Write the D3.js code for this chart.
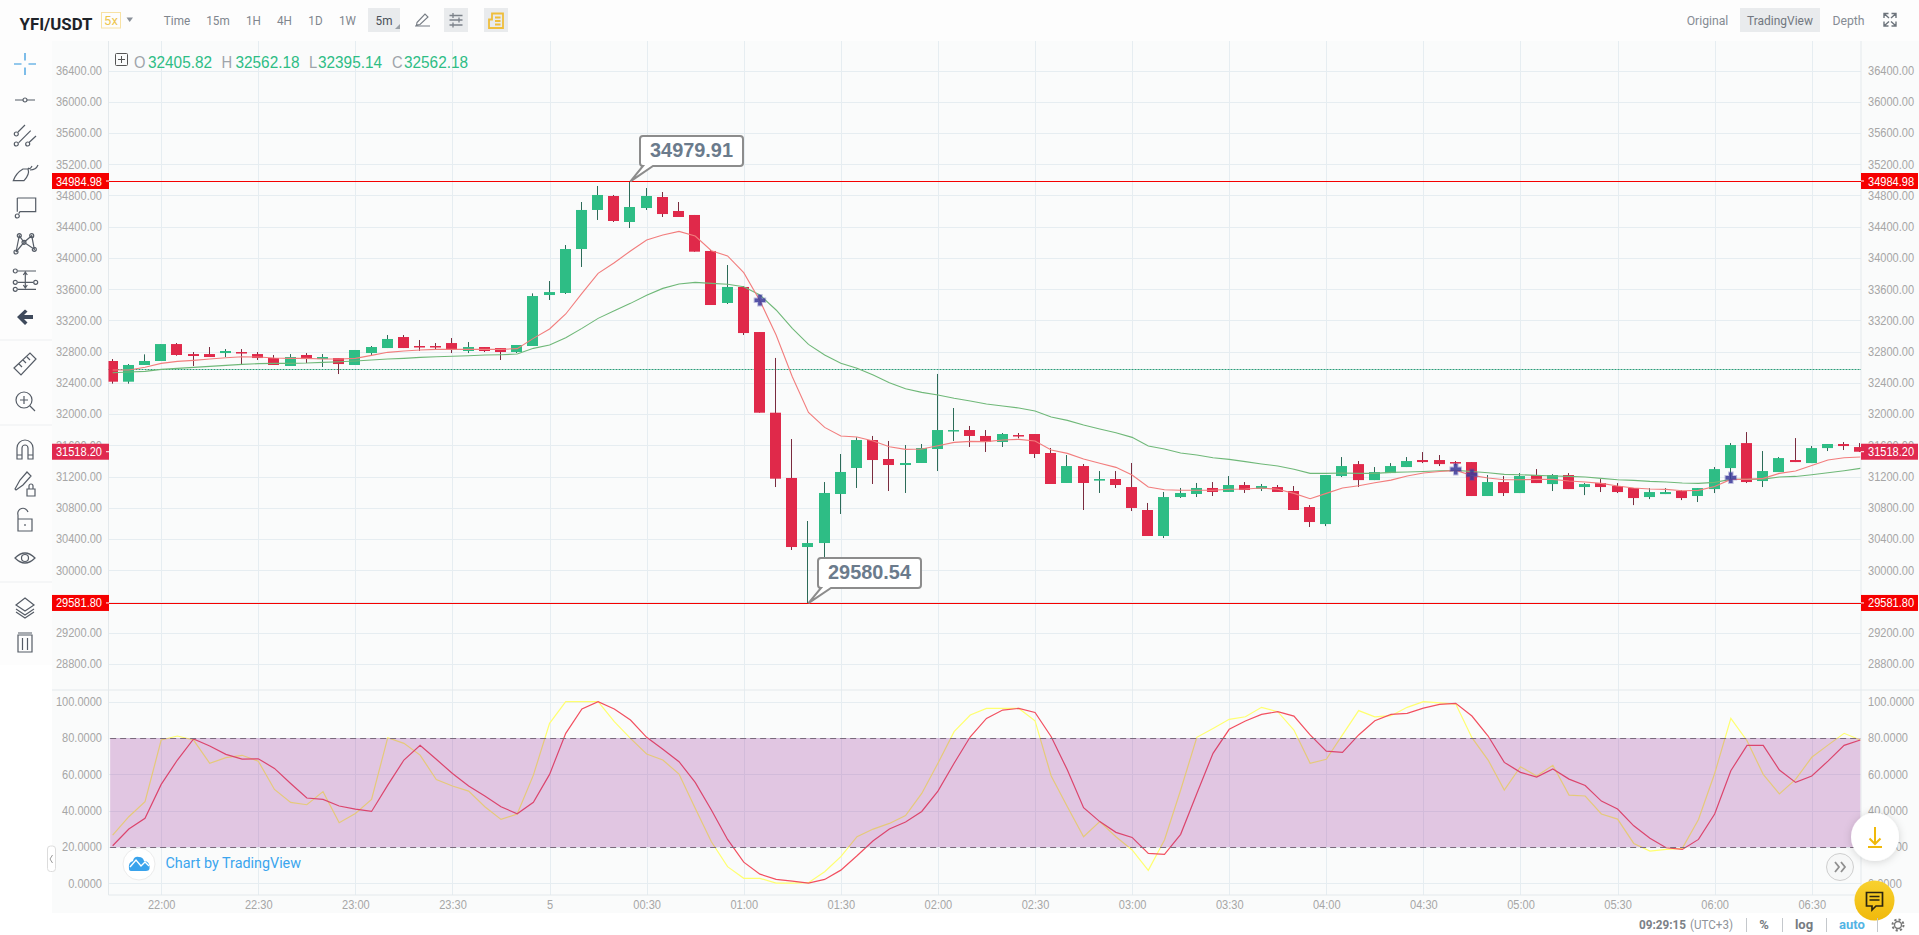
<!DOCTYPE html>
<html>
<head>
<meta charset="utf-8">
<title>YFI/USDT</title>
<script src="https://cdn.jsdelivr.net/npm/d3@7"></script>
<style>
  html, body { margin: 0; padding: 0; background: #fff; overflow: hidden; }
  svg { display: block; }
  text { font-family: "Liberation Sans", Arial, sans-serif; }
  .ui { font-family: Roboto, "Noto Sans", sans-serif; }
</style>
</head>
<body>
<svg id="chart" width="1919" height="935"></svg>
<script>
// candles, 5 minute bars from 21:45 to 06:45
const opens = [
  32680,32415,32629,32680,32897,32769,32769,32782,32795,32769,
  32718,32616,32757,32705,32718,32629,32782,32846,32987,32872,
  32872,32910,32808,32859,32846,32795,32872,33525,33551,34114,
  34614,34793,34460,34639,34780,34601,34550,34089,33423,33628,
  33051,32018,31182,30298,30349,30977,31310,31668,31425,31348,
  31374,31553,31784,31796,31720,31643,31732,31745,31502,31118,
  31335,31148,31169,31066,30772,30439,30938,30977,31054,31003,
  31092,31041,31066,31015,30810,30592,31207,31360,31155,31245,
  31322,31412,31412,31386,31386,30951,31130,30989,31220,31104,
  31220,31066,31117,31079,31053,30938,30976,31015,30951,31040,
  31309,31629,31143,31258,31412,31373,31565,31617,31578];
const highs = [
  32705,32641,32765,32897,32910,32795,32859,32833,32833,32795,
  32757,32769,32782,32769,32718,32821,32872,33013,33013,32949,
  32910,32974,32923,32859,32846,32885,33546,33704,34165,34716,
  34921,34806,34979.91,34895,34844,34716,34550,34101,33909,33640,
  33051,32719,31681,30631,31130,31489,31703,31720,31656,31604,
  31617,32514,32078,31848,31796,31758,31758,31745,31566,31476,
  31361,31271,31271,31374,30862,31003,31054,31118,31130,31207,
  31130,31105,31092,31079,30835,31220,31450,31399,31322,31373,
  31450,31514,31476,31399,31386,31220,31207,31245,31296,31232,
  31245,31117,31168,31117,31053,31053,31053,31027,31053,31322,
  31629,31770,31527,31450,31693,31591,31617,31642,31629];
const lows = [
  32390,32390,32629,32680,32748,32616,32731,32731,32641,32693,
  32629,32616,32654,32603,32513,32629,32757,32846,32846,32808,
  32833,32782,32782,32795,32693,32782,32872,33461,33538,33884,
  34486,34460,34383,34614,34524,34524,34080,33397,33410,33013,
  32018,31066,30260,29580.54,30016,30721,31054,31105,31015,30990,
  31374,31271,31656,31579,31515,31579,31690,31438,31105,31118,
  30772,30990,31054,30759,30439,30413,30926,30938,30951,31003,
  30990,31015,31003,30772,30554,30566,31194,31066,31155,31245,
  31322,31373,31335,31343,30951,30951,30951,30989,31117,31015,
  31040,30963,31002,30989,30835,30912,30976,30899,30874,30989,
  31155,31117,31066,31258,31386,31373,31527,31540,31514];
const closes = [
  32415,32629,32680,32897,32757,32744,32731,32808,32782,32718,
  32629,32731,32705,32731,32641,32821,32859,32962,32846,32859,
  32859,32821,32859,32808,32795,32885,33512,33563,34114,34614,
  34806,34473,34652,34793,34562,34524,34080,33397,33628,33038,
  32018,31173,30298,30349,30990,31259,31668,31412,31348,31374,
  31566,31796,31796,31720,31643,31745,31715,31489,31105,31335,
  31118,31169,31092,30798,30439,30938,30990,31054,31003,31092,
  31028,31079,31003,30772,30618,31220,31335,31155,31258,31335,
  31399,31386,31360,31373,30951,31130,30989,31207,31117,31220,
  31040,31104,31066,31002,30925,31002,31002,30925,31053,31296,
  31604,31130,31271,31437,31386,31565,31617,31591,31518.2];

// moving averages
const emaFast = [
  32564,32564,32599,32650,32675,32688,32705,32722,32735,32731,
  32718,32714,32714,32705,32705,32714,32752,32791,32808,32821,
  32829,32829,32829,32829,32829,32838,32970,33090,33282,33546,
  33802,33939,34089,34229,34293,34340,34281,34093,34025,33811,
  33452,33013,32479,32022,31830,31719,31706,31655,31583,31548,
  31553,31595,31638,31651,31647,31668,31677,31655,31540,31497,
  31425,31370,31318,31220,31066,31032,31024,31024,31024,31037,
  31041,31054,31037,30985,30916,30985,31053,31083,31121,31155,
  31207,31245,31266,31279,31215,31181,31160,31160,31164,31164,
  31143,31130,31113,31079,31053,31040,31036,31019,31023,31074,
  31164,31164,31177,31241,31271,31343,31412,31441,31450];
const emaSlow = [
  32530,32539,32547,32573,32586,32599,32611,32624,32637,32646,
  32650,32650,32654,32663,32671,32680,32693,32705,32714,32727,
  32735,32740,32748,32757,32761,32769,32842,32885,32979,33098,
  33226,33324,33418,33521,33610,33666,33687,33674,33662,33632,
  33525,33333,33098,32893,32757,32650,32586,32500,32402,32325,
  32278,32244,32202,32167,32129,32103,32078,32039,31963,31920,
  31860,31809,31762,31702,31591,31553,31501,31476,31442,31420,
  31391,31361,31335,31293,31241,31241,31245,31241,31241,31254,
  31258,31266,31275,31279,31266,31249,31228,31224,31215,31207,
  31202,31194,31177,31160,31151,31138,31130,31117,31113,31126,
  31164,31164,31168,31194,31202,31224,31249,31275,31305];

// stochastic pane
const stochK = [
  26.6,36.7,45.0,78.9,81.1,78.9,66.1,69.2,70.5,67.3,
  51.7,44.6,43.3,50.5,33.4,38.5,46.2,80.2,77.1,70.6,
  57.2,53.6,50.8,42.2,35.2,38.2,59.6,88.1,100,100,
  100,89.0,79.8,71.2,67.9,60.2,41.3,22.9,9.2,2.8,
  2.8,0.2,0.2,0.4,6.4,14.7,25.7,29.9,33.0,37.3,
  49.5,66.1,83.5,92.7,96.3,96.3,96.3,89.5,59.1,42.2,
  25.7,34.0,25.7,18.4,7.2,23.9,51.4,80.4,85.3,90.3,
  91.7,96.9,94.5,84.4,66.1,68.3,81.7,95.1,91.7,92.3,
  96.9,100,99.4,98.7,80.2,67.9,51.4,64.2,59.1,65.0,
  48.6,48.1,38.2,35.4,22.0,17.8,18.7,19.3,35.2,60.5,
  90.8,78.5,60.0,49.2,57.2,69.4,76.1,82.6,78.9];
const stochD = [
  20.7,29.9,35.8,54.5,67.9,79.5,75.6,71.0,68.4,68.6,
  63.3,55.0,47.0,46.2,42.6,40.9,39.6,54.1,67.9,76.0,
  68.3,60.5,53.6,48.1,42.2,38.3,44.6,60.0,82.6,96.0,
  100,96.0,89.9,80.4,73.8,67.0,55.6,40.4,24.2,11.7,
  5.1,2.2,1.3,0.2,2.2,7.3,15.2,23.5,29.9,33.8,
  39.6,50.8,66.1,80.7,90.8,95.4,96.3,94.1,80.7,62.4,
  41.7,34.0,28.1,25.3,16.5,16.0,27.0,49.5,71.6,84.8,
  89.4,93.0,94.5,92.1,81.7,72.8,72.1,81.7,89.5,93.0,
  93.6,96.5,98.5,99.1,92.1,81.1,66.6,61.1,58.5,63.0,
  57.4,53.9,45.3,40.9,31.7,24.8,19.6,18.7,24.2,38.2,
  62.0,76.0,76.0,62.4,55.6,59.1,67.3,76.0,78.9];

// bar index of each EMA cross and its price
const crossBars = [40, 83, 84, 100];
const crossPrices = [33457, 31293, 31224, 31185];

const priceTicks = d3.range(28800, 36401, 400);
const stochTicks = [0, 20, 40, 60, 80, 100];
const timeLabels = ["22:00","22:30","23:00","23:30","5","00:30","01:00","01:30","02:00","02:30",
  "03:00","03:30","04:00","04:30","05:00","05:30","06:00","06:30"];
const timeBars = timeLabels.map((d, i) => 3 + i * 6);

const highLine = 34984.98, lowLine = 29581.80, lastPrice = 31518.20, hoverClose = 32562.18;
const highNote = 34979.91, lowNote = 29580.54;
const legendItems = [["O", "32405.82"], ["H", "32562.18"], ["L", "32395.14"], ["C", "32562.18"]];
const legendX = [[134, 148], [221.5, 235.5], [309, 318], [392, 404]];

const green = "#2ebd85", red = "#e0294a";
const gridColor = "#e6edf1", axisText = "#a6a6a6";
const paneL = 108.5, paneR = 1861, paneT = 41, paneMid = 690, paneB = 895;

const svg = d3.select("#chart");

// scales
const x = d3.scaleLinear().domain([0, 108]).range([112.65, 1860.3]);
const y = d3.scaleLinear().domain([28800, 36400]).range([664, 70.5]);
const yS = d3.scaleLinear().domain([0, 100]).range([883.4, 701.7]);

// squeeze text horizontally, the screenshot is narrower than the font
function squeeze(sel, k) {
  sel.each(function () {
    const len = this.getComputedTextLength();
    d3.select(this).attr("textLength", len * k).attr("lengthAdjust", "spacingAndGlyphs");
  });
}
function label(parent, txt, px, py, opt = {}) {
  const t = parent.append("text")
    .attr("x", px).attr("y", py)
    .attr("text-anchor", opt.anchor || "start")
    .attr("font-size", opt.size || 13)
    .attr("fill", opt.fill || "#707a8a")
    .attr("font-weight", opt.weight || "normal")
    .text(txt);
  if (opt.cls) t.attr("class", opt.cls);
  if (opt.k) squeeze(t, opt.k);
  if (opt.width) t.attr("textLength", opt.width).attr("lengthAdjust", "spacingAndGlyphs");
  return t;
}

// backgrounds
svg.append("rect").attr("x", 0).attr("y", 0).attr("width", 1919).attr("height", 41).attr("fill", "#fdfdfd");
svg.append("rect").attr("x", 0).attr("y", 41).attr("width", 52).attr("height", 624).attr("fill", "#fdfdfd");
svg.append("rect").attr("x", 52).attr("y", 41).attr("width", 1867).attr("height", 872).attr("fill", "#fafbfb");

const defs = svg.append("defs");
defs.append("clipPath").attr("id", "clipMain").append("rect")
  .attr("x", paneL).attr("y", paneT).attr("width", paneR - paneL).attr("height", paneMid - paneT);
defs.append("clipPath").attr("id", "clipStoch").append("rect")
  .attr("x", paneL).attr("y", paneMid).attr("width", paneR - paneL).attr("height", paneB - paneMid);
const shadow = defs.append("filter").attr("id", "soft").attr("x", "-40%").attr("y", "-40%").attr("width", "180%").attr("height", "180%");
shadow.append("feDropShadow").attr("dx", 0).attr("dy", 1).attr("stdDeviation", 4).attr("flood-color", "#000").attr("flood-opacity", 0.16);
const chatFill = defs.append("linearGradient").attr("id", "chatFill").attr("x1", 0).attr("y1", 0).attr("x2", 0).attr("y2", 1);
chatFill.append("stop").attr("offset", "0%").attr("stop-color", "#f8d12f");
chatFill.append("stop").attr("offset", "100%").attr("stop-color", "#f0b90b");

// grid
const grid = svg.append("g").attr("fill", "none").attr("stroke", gridColor).attr("stroke-width", 1);
grid.selectAll("line.px").data(priceTicks).enter().append("line")
  .attr("x1", paneL).attr("x2", paneR).attr("y1", d => Math.round(y(d)) + 0.5).attr("y2", d => Math.round(y(d)) + 0.5);
grid.selectAll("line.sx").data(stochTicks).enter().append("line")
  .attr("x1", paneL).attr("x2", paneR).attr("y1", d => Math.round(yS(d)) + 0.5).attr("y2", d => Math.round(yS(d)) + 0.5);
grid.selectAll("line.vx").data(timeBars).enter().append("line")
  .attr("x1", d => Math.round(x(d)) + 0.5).attr("x2", d => Math.round(x(d)) + 0.5).attr("y1", paneT).attr("y2", paneB);
[[paneL, paneL, paneT, paneB], [paneR, paneR, paneT, paneB], [52, 1919, paneMid, paneMid], [paneL, paneR, paneB, paneB]].forEach(l => {
  grid.append("line").attr("x1", l[0]).attr("x2", l[1]).attr("y1", l[2]).attr("y2", l[3]).attr("stroke", "#e4e9ec");
});

// last hovered close, dotted
svg.append("line").attr("x1", paneL).attr("x2", paneR)
  .attr("y1", Math.round(y(hoverClose)) - 0.5).attr("y2", Math.round(y(hoverClose)) - 0.5)
  .attr("stroke", "#2a9d78").attr("stroke-dasharray", "2,1");

// candles
const main = svg.append("g").attr("clip-path", "url(#clipMain)");
const bars = d3.range(opens.length);
main.selectAll("line.wick").data(bars).enter().append("line")
  .attr("class", "wick")
  .attr("x1", i => Math.round(x(i)) - 0.5).attr("x2", i => Math.round(x(i)) - 0.5)
  .attr("y1", i => y(highs[i])).attr("y2", i => y(lows[i]))
  .attr("stroke", i => closes[i] >= opens[i] ? "#2c6b58" : "#7a2b3e");
main.selectAll("rect.body").data(bars).enter().append("rect")
  .attr("class", "body")
  .attr("x", i => Math.round(x(i)) - 6)
  .attr("width", 11)
  .attr("y", i => y(Math.max(opens[i], closes[i])))
  .attr("height", i => Math.max(1.5, Math.abs(y(opens[i]) - y(closes[i]))))
  .attr("fill", i => closes[i] >= opens[i] ? green : red);

// moving averages
const lineOf = (vals, sy) => d3.line().x((d, i) => x(i)).y(d => sy(d))(vals);
main.append("path").attr("d", lineOf(emaSlow, y)).attr("fill", "none").attr("stroke", "#6fb878").attr("stroke-width", 1.1);
main.append("path").attr("d", lineOf(emaFast, y)).attr("fill", "none").attr("stroke", "#f27d7d").attr("stroke-width", 1.1);

// EMA cross markers
main.selectAll("path.cross").data(crossBars).enter().append("path")
  .attr("class", "cross")
  .attr("d", d3.symbol(d3.symbolCross).size(62))
  .attr("transform", (d, i) => `translate(${x(d)},${y(crossPrices[i])})`)
  .attr("fill", "#3b3a98").attr("fill-opacity", 0.85)
  .attr("stroke", "#4b49a8").attr("stroke-opacity", 0.35).attr("stroke-width", 2);

// high and low lines
[highLine, lowLine].forEach(v => {
  svg.append("line").attr("x1", paneL).attr("x2", paneR)
    .attr("y1", Math.round(y(v)) + 0.5).attr("y2", Math.round(y(v)) + 0.5)
    .attr("stroke", "#f50000").attr("stroke-width", 1.2);
});

// price callouts
function callout(bar, price, boxX, boxY, text) {
  const tipX = x(bar), tipY = y(price);
  const g = svg.append("g");
  const w = 103, h = 30, r = 3, b0 = boxX + 3, b1 = boxX + 13;
  const d = `M${boxX + r},${boxY}H${boxX + w - r}Q${boxX + w},${boxY} ${boxX + w},${boxY + r}` +
    `V${boxY + h - r}Q${boxX + w},${boxY + h} ${boxX + w - r},${boxY + h}` +
    `H${b1}L${tipX},${tipY}L${b0},${boxY + h}H${boxX + r}Q${boxX},${boxY + h} ${boxX},${boxY + h - r}` +
    `V${boxY + r}Q${boxX},${boxY} ${boxX + r},${boxY}Z`;
  g.append("path").attr("d", d).attr("fill", "#fff").attr("stroke", "#8c8c8c").attr("stroke-width", 2);
  label(g, text, boxX + w / 2, boxY + 21, { anchor: "middle", size: 21, weight: "bold", fill: "#6b7b8c", width: 83 });
}
callout(32, highNote, 640, 136, d3.format(".2f")(highNote));
callout(43, lowNote, 818, 558, d3.format(".2f")(lowNote));

// stochastic lines go under the band so the band tints them
const stoch = svg.append("g").attr("clip-path", "url(#clipStoch)");
stoch.append("path").attr("d", lineOf(stochK, yS)).attr("fill", "none").attr("stroke", "#ffff70").attr("stroke-width", 1.2);
stoch.append("path").attr("d", lineOf(stochD, yS)).attr("fill", "none").attr("stroke", "#f25060").attr("stroke-width", 1.2);
svg.append("rect").attr("x", x(0) - 2.5).attr("width", x(108) - x(0) + 2.5)
  .attr("y", yS(80)).attr("height", yS(20) - yS(80))
  .attr("fill", "rgb(150,39,151)").attr("fill-opacity", 0.25);
[80, 20].forEach(v => {
  svg.append("line").attr("x1", x(0) - 2.5).attr("x2", x(108))
    .attr("y1", Math.round(yS(v)) + 0.5).attr("y2", Math.round(yS(v)) + 0.5)
    .attr("stroke", "#7a6a7c").attr("stroke-dasharray", "6,4");
});

// axes
function styleAxis(g) {
  g.select(".domain").remove();
  g.selectAll(".tick line").remove();
  g.selectAll("text").attr("fill", axisText).attr("font-size", 12).attr("font-family", '"Liberation Sans", Arial, sans-serif');
  squeeze(g.selectAll("text"), 0.92);
}
const priceFmt = d3.format(".2f"), stochFmt = d3.format(".4f");
svg.append("g").attr("transform", "translate(102,0)")
  .call(d3.axisLeft(y).tickValues(priceTicks).tickFormat(priceFmt).tickSize(0).tickPadding(0)).call(styleAxis);
svg.append("g").attr("transform", "translate(1868,0)")
  .call(d3.axisRight(y).tickValues(priceTicks).tickFormat(priceFmt).tickSize(0).tickPadding(0)).call(styleAxis);
svg.append("g").attr("transform", "translate(102,0)")
  .call(d3.axisLeft(yS).tickValues(stochTicks).tickFormat(stochFmt).tickSize(0).tickPadding(0)).call(styleAxis);
svg.append("g").attr("transform", "translate(1868,0)")
  .call(d3.axisRight(yS).tickValues(stochTicks).tickFormat(stochFmt).tickSize(0).tickPadding(0)).call(styleAxis);
svg.append("g").attr("transform", `translate(0,${paneB + 5})`)
  .call(d3.axisBottom(x).tickValues(timeBars).tickFormat((d, i) => timeLabels[i]).tickSize(0).tickPadding(0)).call(styleAxis);

// price tags on both scales
const tagFmt = d3.format(".2f");
[[highLine, "#f50000"], [lastPrice, "#e0294f"], [lowLine, "#f50000"]].forEach(tag => {
  const py = y(tag[0]);
  [[52, 57, 102, "end", 106], [1861, 57, 1868, "start", 1861]].forEach(s => {
    svg.append("rect").attr("x", s[0]).attr("y", py - 8).attr("width", s[1]).attr("height", 16).attr("fill", tag[1]);
    svg.append("line").attr("x1", s[4]).attr("x2", s[4] + 3).attr("y1", py).attr("y2", py).attr("stroke", "#fff");
    label(svg, tagFmt(tag[0]), s[2], py + 4.5, { anchor: s[3], size: 12, fill: "#fff", k: 0.92 });
  });
});

// OHLC legend
const legend = svg.append("g");
legend.append("rect").attr("x", 115.5).attr("y", 53.5).attr("width", 12).attr("height", 12).attr("rx", 1).attr("fill", "none").attr("stroke", "#555");
legend.append("path").attr("d", "M118,59.5H125M121.5,56V63").attr("stroke", "#555").attr("fill", "none");
legendItems.forEach((it, i) => {
  label(legend, it[0], legendX[i][0], 68, { size: 16, fill: "#9ea4aa", k: 0.92 });
  label(legend, it[1], legendX[i][1], 68, { size: 16, fill: green, width: 64 });
});

// top toolbar
const topBar = svg.append("g");
label(topBar, "YFI/USDT", 19.5, 30, { cls: "ui", size: 17, weight: "bold", fill: "#1e2329", width: 73 });
topBar.append("rect").attr("x", 101.5).attr("y", 12.5).attr("width", 19).attr("height", 15.5).attr("fill", "none").attr("stroke", "#f8e2a4");
label(topBar, "5x", 111, 25, { cls: "ui", anchor: "middle", size: 13, fill: "#eec64f" });
topBar.append("path").attr("d", "M126.5,17.5H133L129.7,22Z").attr("fill", "#8a9099");
const timeBtns = [["Time", 177], ["15m", 218], ["1H", 253.5], ["4H", 284.5], ["1D", 315.5], ["1W", 347.5]];
timeBtns.forEach(b => label(topBar, b[0], b[1], 25, { cls: "ui", anchor: "middle", size: 13, fill: "#80868e", k: 0.9 }));
[[368, 32], [444, 24], [484, 24], [1740, 80]].forEach(b => {
  topBar.append("rect").attr("x", b[0]).attr("y", 8).attr("width", b[1]).attr("height", 24).attr("fill", "#e9ebed");
});
label(topBar, "5m", 384, 25, { cls: "ui", anchor: "middle", size: 13, fill: "#4a5058", k: 0.9 });
topBar.append("path").attr("d", "M395,29L400,29L400,24Z").attr("fill", "#9aa0a6");
// pencil, sliders, orders
topBar.append("path").attr("d", "M415,26H430M417,22.5L425,14L428,17L420,24.5L416.5,25Z").attr("fill", "none").attr("stroke", "#777d85").attr("stroke-width", 1.1);
topBar.append("path").attr("d", "M449.5,15.5H462.5M449.5,20H462.5M449.5,25H462.5M453,13V18M459,17.5V22.5M453,22.5V27.5").attr("fill", "none").attr("stroke", "#7c828a").attr("stroke-width", 1.3);
topBar.append("path").attr("d", "M492,13.5H503V28H489V19.5H492ZM495,17.5H500.5M495,21H500.5M495,24.5H500.5").attr("fill", "none").attr("stroke", "#efbe3b").attr("stroke-width", 1.8);
label(topBar, "Original", 1707.5, 25, { cls: "ui", anchor: "middle", size: 13, fill: "#868c94", k: 0.94 });
label(topBar, "TradingView", 1780, 25, { cls: "ui", anchor: "middle", size: 13, fill: "#727880", k: 0.92 });
label(topBar, "Depth", 1848.5, 25, { cls: "ui", anchor: "middle", size: 13, fill: "#868c94", k: 0.94 });
topBar.append("path").attr("d", "M1884,18V13.5H1888.5M1884,13.5L1889,18M1896,18V13.5H1891.5M1896,13.5L1891,18M1884,21.5V26H1888.5M1884,26L1889,21.5M1896,21.5V26H1891.5M1896,26L1891,21.5")
  .attr("fill", "none").attr("stroke", "#6d747c").attr("stroke-width", 1.4);

// left drawing tools, each path drawn around its own centre
const ring = (cx, cy, r = 2) => `M${cx + r},${cy}a${r},${r} 0 1 0 ${-2 * r},0a${r},${r} 0 1 0 ${2 * r},0`;
const toolIcons = [
  [64, "M0,-11V-3.5M0,3.5V11M-11,0H-3.5M3.5,0H11", "#2a93dc"],
  [100, "M-10,0H-2M2,0H10" + ring(0, 0), "#555c66"],
  [136, "M-7,-4L0,-11M-6.3,6.7L5.7,-5.3M4.3,6.3L11,0" + ring(-8.7, -2) + ring(-8.7, 8) + ring(2.7, 8), "#555c66"],
  [172, "M-11.7,8.7H-1Q5,2 3,-3L-2,-3Q-9,1 -11.7,8.7ZM3,-4Q5,-2 7,-6M5,-2Q11,-2 13,-7", "#555c66"],
  [207, "M-7.7,-9H10.7V4.7H-5L-6.3,6.7M-7.7,-9V4.7" + ring(-7.7, 9), "#555c66"],
  [243, "M-9,9L-5.7,-7.3L-1,-0.7L6.7,-7.3L9.3,6.3L-1,-0.7L-9,9" + ring(-5.7, -7.3) + ring(6.7, -7.3) + ring(-1, -0.7) + ring(-9, 9) + ring(9.3, 6.3), "#555c66"],
  [280, "M-7,-9H11M-7,2.3H8M-7,9.3H11M0.3,-7V7M-1.7,-5L0.3,-8L2.3,-5M-1.7,5L0.3,8L2.3,5" + ring(-9.7, -9) + ring(-9.7, 2.3) + ring(-9.7, 9.3) + ring(10.7, 2.3), "#555c66"],
  [365, "M-11,3L5,-12L11,-6L-4,10ZM-6,-1L-3,2M-2,-5L1,-2M2,-8L5,-5", "#555c66"],
  [400, "M7,0A8,8 0 1 1 -9,0A8,8 0 1 1 7,0M5,6L10,11M-5,0H3M-1,-4V4", "#555c66"],
  [450, "M-8,9V-2A8,8 0 0 1 8,-2V9H3V-2A3,3 0 0 0 -3,-2V9ZM-8,5H-3M3,5H8", "#555c66"],
  [483, "M-10,6L-5,-3L2,-11L6,-7L-2,2L-9,7ZM2,6H10V13H2ZM4,6V3A2,2 0 0 1 8,3V6", "#555c66"],
  [521, "M-7,-2H7V10H-7ZM-7,-2V-6A5,5 0 0 1 3,-9M0,3V5", "#555c66"],
  [558, "M-10,0Q0,-10 10,0Q0,10 -10,0ZM3.5,0A3.5,3.5 0 1 1 -3.5,0A3.5,3.5 0 1 1 3.5,0", "#555c66"],
  [607, "M0,-9L9,-2L0,4L-9,-2ZM-9,2L0,8L9,2M-9,5L0,11L9,5", "#555c66"],
  [643, "M-7,-8H7V9H-7ZM-7,-10H7M-2.5,-5V7M2.5,-5V7", "#555c66"]
];
const tools = svg.append("g").attr("fill", "none").attr("stroke-width", 1.2);
toolIcons.forEach(t => {
  tools.append("path").attr("d", t[1]).attr("transform", `translate(25,${t[0]})`).attr("stroke", t[2]);
});
tools.append("path").attr("d", "M17,317L25,309.5L27.5,311.5L24,315H33V319H24L27.5,322.5L25,325Z").attr("fill", "#3f4a5c").attr("stroke", "none");
[340, 425, 582].forEach(s => tools.append("line").attr("x1", 0).attr("x2", 52).attr("y1", s).attr("y2", s).attr("stroke", "#eef0f2"));

// collapse handle and TradingView badge
svg.append("rect").attr("x", 47.5).attr("y", 846).attr("width", 8).attr("height", 25.5).attr("rx", 3).attr("fill", "#fff").attr("stroke", "#dcdcdc");
svg.append("path").attr("d", "M52.5,855L50,859L52.5,863").attr("fill", "none").attr("stroke", "#999");
svg.append("circle").attr("cx", 139).attr("cy", 864).attr("r", 16).attr("fill", "#fff").attr("stroke", "#ececec");
svg.append("path").attr("d", "M129,869Q128,862 133,861Q134,856 139,857Q143,857 144,861Q150,861 149.5,869Q149,871 146,871H132Q129,871 129,869Z").attr("fill", "#3aa3ec");
svg.append("path").attr("d", "M130,867L136,860L141,866L145,862L149,866").attr("fill", "none").attr("stroke", "#fff").attr("stroke-width", 1.4);
label(svg, "Chart by TradingView", 165.5, 868, { cls: "ui", size: 15, fill: "#3ba5ee", width: 135.5 });

// floating buttons
svg.append("circle").attr("cx", 1875).attr("cy", 837).attr("r", 24).attr("fill", "#fff").attr("filter", "url(#soft)");
svg.append("path").attr("d", "M1875,827V844M1869.5,838.5L1875,844L1880.5,838.5M1868,847H1882").attr("fill", "none").attr("stroke", "#f0b90b").attr("stroke-width", 2);
svg.append("circle").attr("cx", 1840).attr("cy", 867).attr("r", 13.5).attr("fill", "#f6f7f7").attr("stroke", "#cfcfcf");
svg.append("path").attr("d", "M1835,862L1839,867L1835,872M1841,862L1845,867L1841,872").attr("fill", "none").attr("stroke", "#8f8f8f").attr("stroke-width", 1.8);
svg.append("circle").attr("cx", 1874.5).attr("cy", 900.5).attr("r", 20).attr("fill", "url(#chatFill)");
svg.append("path").attr("d", "M1866.5,892.5H1882.5V906H1876L1872,910V906H1866.5ZM1869.5,896.5H1879.5M1869.5,900H1879.5")
  .attr("fill", "none").attr("stroke", "#2a2410").attr("stroke-width", 1.7);

// status bar
const statusBar = svg.append("g");
label(statusBar, "09:29:15", 1639, 929, { cls: "ui", size: 13, weight: "bold", fill: "#7c8187", width: 47 });
label(statusBar, "(UTC+3)", 1690, 929, { cls: "ui", size: 13, fill: "#8f949a", width: 43 });
[1746.5, 1782.5, 1826.5, 1877.5].forEach(s => {
  statusBar.append("line").attr("x1", s).attr("x2", s).attr("y1", 918).attr("y2", 932).attr("stroke", "#c4c8cc");
});
label(statusBar, "%", 1764, 929, { cls: "ui", anchor: "middle", size: 13, weight: "bold", fill: "#767b82" });
label(statusBar, "log", 1804, 929, { cls: "ui", anchor: "middle", size: 13, weight: "bold", fill: "#767b82" });
label(statusBar, "auto", 1852, 929, { cls: "ui", anchor: "middle", size: 13, weight: "bold", fill: "#53b4e4" });
statusBar.append("circle").attr("cx", 1898).attr("cy", 925).attr("r", 3.5).attr("fill", "none").attr("stroke", "#777").attr("stroke-width", 1.4);
statusBar.append("circle").attr("cx", 1898).attr("cy", 925).attr("r", 5.5).attr("fill", "none").attr("stroke", "#777").attr("stroke-width", 2).attr("stroke-dasharray", "2.2,2.1");
</script>
</body>
</html>
